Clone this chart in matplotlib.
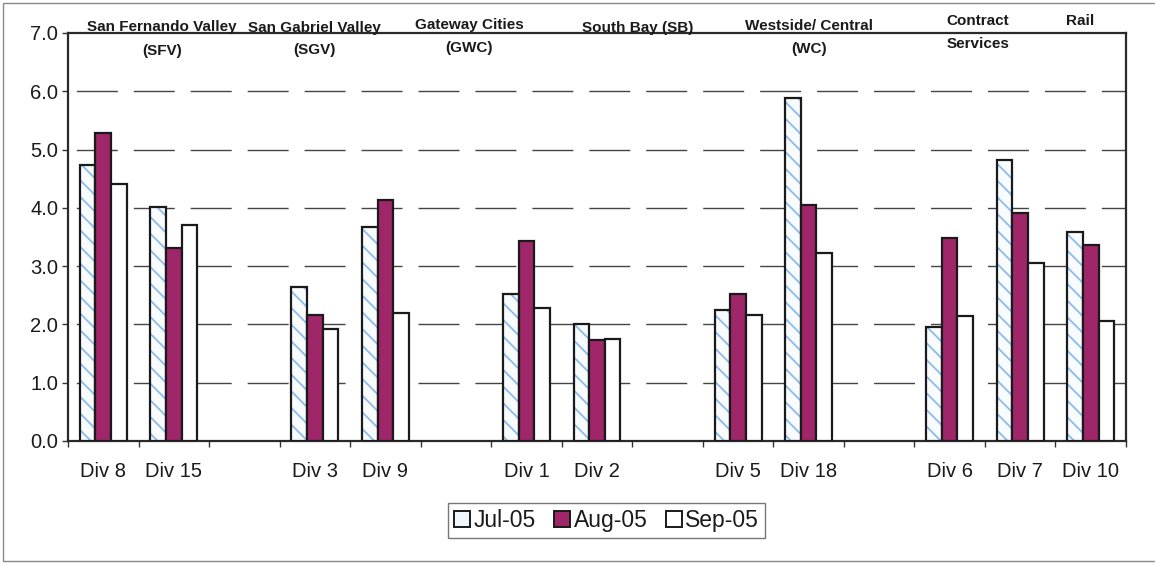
import matplotlib
matplotlib.use("Agg")
import matplotlib.pyplot as plt
from matplotlib.patches import Patch, Rectangle
import numpy as np

plt.rcParams['font.family'] = ['Liberation Sans', 'DejaVu Sans']
plt.rcParams['hatch.linewidth'] = 1.3

# Divisions in plotting order; empty strings are spacer slots between regions
divisions = ["Div 8", "Div 15", "", "Div 3", "Div 9", "", "Div 1", "Div 2", "",
             "Div 5", "Div 18", "", "Div 6", "Div 7", "Div 10"]
series_names = ["Jul-05", "Aug-05", "Sep-05"]
jul_05 = [4.73, 4.02, None, 2.65, 3.68, None, 2.53, 2.01, None, 2.24, 5.89, None, 1.96, 4.82, 3.58]
aug_05 = [5.28, 3.31, None, 2.16, 4.14, None, 3.43, 1.73, None, 2.53, 4.05, None, 3.48, 3.92, 3.37]
sep_05 = [4.41, 3.70, None, 1.92, 2.19, None, 2.28, 1.75, None, 2.17, 3.23, None, 2.14, 3.06, 2.06]

region_names = ["San Fernando Valley\n(SFV)", "San Gabriel Valley\n(SGV)", "Gateway Cities\n(GWC)",
                "South Bay (SB)", "Westside/ Central\n(WC)", "Contract\nServices", "Rail"]
region_x = [0.83, 3.0, 5.19, 7.57, 10.01, 12.40, 13.85]
# vertical offset (points above the plot top) of each region's first line, and line spacing
region_dy = [4.6, 3.6, 5.4, 3.6, 4.8, 8.4, 8.4]
region_lsp = [17.3, 16.0, 16.5, 16.0, 16.0, 16.0, 16.0]

y_ticks = [0.0, 1.0, 2.0, 3.0, 4.0, 5.0, 6.0, 7.0]

fig = plt.figure(figsize=(11.55, 5.63), dpi=100)
ax = fig.add_axes([68 / 1155, 122 / 563, 1058 / 1155, 408 / 563])

x = np.arange(len(divisions))
w = 0.222
vals = [np.array([np.nan if v is None else v for v in s]) for s in (jul_05, aug_05, sep_05)]

# July: pale fill with light-blue diagonal texture, then black outline on top
ax.bar(x - w, vals[0], w, color='#f8fcff', edgecolor='#8dbbec', hatch='\\\\', linewidth=0, zorder=3)
ax.bar(x - w, vals[0], w, fill=False, edgecolor='#1a1a1a', linewidth=1.6, zorder=4)
ax.bar(x, vals[1], w, color='#a0266a', edgecolor='#1a1a1a', linewidth=1.6, zorder=4)
ax.bar(x + w, vals[2], w, color='white', edgecolor='#1a1a1a', linewidth=1.6, zorder=4)

ax.set_xlim(-0.5, len(divisions) - 0.5)
ax.set_ylim(0, 7)
ax.set_yticks(y_ticks)
ax.set_yticklabels([f"{t:.1f}" for t in y_ticks], fontsize=14.5, color='#1a1a1a')

ax.set_xticks(x)
ax.set_xticklabels(divisions, fontsize=14.5, color='#1a1a1a')
ax.tick_params(axis='x', which='major', length=0, pad=15)
ax.set_xticks(np.arange(-0.5, len(divisions), 1.0), minor=True)
ax.tick_params(axis='x', which='minor', length=4.5, width=1, direction='out', color='#333333')
ax.tick_params(axis='y', which='major', length=4.5, width=1, direction='out', pad=2.5, color='#333333')

for s in ax.spines.values():
    s.set_linewidth(1.6)
    s.set_color('#2a2a2a')

for t in y_ticks[1:-1]:
    ax.axhline(t, color='#444444', linewidth=1.0, linestyle=(35.0, (29.5, 11.5)), zorder=1)

for name, xr, dy, lsp in zip(region_names, region_x, region_dy, region_lsp):
    for k, line in enumerate(name.split("\n")):
        ax.annotate(line, xy=(xr, 1.0), xycoords=('data', 'axes fraction'),
                    xytext=(0, dy - k * lsp), textcoords='offset points',
                    ha='center', va='center', fontsize=11, fontweight='bold',
                    color='#1a1a1a', annotation_clip=False, zorder=6)

handles = [Patch(facecolor='#eef8fc', edgecolor='#1a1a1a', linewidth=1.4),
           Patch(facecolor='#a0266a', edgecolor='#1a1a1a', linewidth=1.4),
           Patch(facecolor='white', edgecolor='#1a1a1a', linewidth=1.4)]
leg = fig.legend(handles, series_names, loc='center', bbox_to_anchor=(606.5 / 1155, 42.5 / 563),
                 ncol=3, fontsize=16.5, frameon=True, fancybox=False, handlelength=0.7,
                 handleheight=0.65, handletextpad=0.15, columnspacing=0.8, borderpad=0.25,
                 borderaxespad=0)
leg.get_frame().set_edgecolor('#555555')
leg.get_frame().set_linewidth(1.0)
for t in leg.get_texts():
    t.set_color('#1a1a1a')

# thin outer chart frame
fig.patches.append(Rectangle((3 / 1155, 2 / 563), 1.2, 558 / 563, transform=fig.transFigure,
                             fill=False, edgecolor='#8a8a8a', linewidth=1.0))

fig.savefig("out.png", dpi=100)
